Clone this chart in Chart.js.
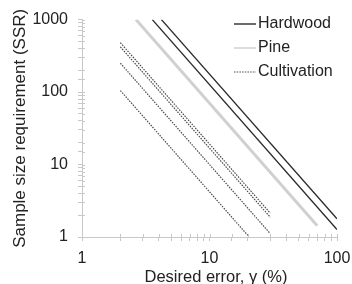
<!DOCTYPE html>
<html>
<head>
<meta charset="utf-8">
<script src="https://cdn.jsdelivr.net/npm/chart.js@4/dist/chart.umd.min.js"></script>
<style>
  html, body { margin: 0; padding: 0; background: #fff; overflow: hidden; }
  #wrap { width: 352px; height: 284px; }
</style>
</head>
<body>
<div id="wrap"><canvas id="ssrChart"></canvas></div>
<script>
// groups shown in the legend
var groupNames = ['Hardwood', 'Pine', 'Cultivation'];

// each line: [desired error %, SSR] at its two ends
var hardwood1 = [[3.56, 1000], [100, 1.27]];
var hardwood2 = [[4.2, 1000], [100, 1.78]];
var pine = [[2.65, 1000], [70, 1.43]];
var cultivation1 = [[2, 480], [30, 2.13]];
var cultivation2 = [[2, 420], [30, 1.87]];
var cultivation3 = [[2, 250], [30, 1.11]];
var cultivation4 = [[2, 105], [20, 1.05]];

var xTickLabels = [1, 10, 100];
var yTickLabels = [1, 10, 100, 1000];
var xTitle = 'Desired error, γ (%)';
var yTitle = 'Sample size requirement (SSR)';

var styles = {
    Hardwood: { borderColor: '#2a2a2a', borderWidth: 1.4, borderDash: [] },
    Pine: { borderColor: '#d0d0d0', borderWidth: 3, borderDash: [] },
    Cultivation: { borderColor: '#4a4a4a', borderWidth: 1.2, borderDash: [1.5, 1.2] }
};

function toPoints(arr) {
    return arr.map(function (p) { return { x: p[0], y: p[1] }; });
}

function makeSet(group, arr) {
    var s = styles[group];
    return {
        label: group,
        data: toPoints(arr),
        borderColor: s.borderColor,
        borderWidth: s.borderWidth,
        borderDash: s.borderDash,
        pointRadius: 0,
        fill: false,
        tension: 0
    };
}

var datasets = [
    makeSet('Hardwood', hardwood1),
    makeSet('Hardwood', hardwood2),
    makeSet('Pine', pine),
    makeSet('Cultivation', cultivation1),
    makeSet('Cultivation', cultivation2),
    makeSet('Cultivation', cultivation3),
    makeSet('Cultivation', cultivation4)
];

var FONT = 'Liberation Sans, Arial, Helvetica, sans-serif';
var AXIS_COLOR = '#c8c8c8';

// legend drawn inside the plot, top right, plus the x title (sits a bit right of centre)
var extrasPlugin = {
    id: 'extras',
    afterDraw: function (chart) {
        var ctx = chart.ctx;
        ctx.save();
        ctx.font = '16px ' + FONT;
        ctx.textBaseline = 'middle';
        ctx.fillStyle = '#222';
        groupNames.forEach(function (name, i) {
            var s = styles[name];
            var y = 24 + i * 24;
            ctx.beginPath();
            ctx.strokeStyle = s.borderColor;
            ctx.lineWidth = name === 'Pine' ? 1.5 : s.borderWidth;
            ctx.setLineDash(s.borderDash);
            ctx.moveTo(234, y);
            ctx.lineTo(256, y);
            ctx.stroke();
            ctx.setLineDash([]);
            ctx.fillText(name, 258, y);
        });
        ctx.font = '16.5px ' + FONT;
        ctx.textAlign = 'center';
        ctx.textBaseline = 'alphabetic';
        ctx.fillText(xTitle, 216, 282);

        // small tick marks poking into the plot area
        var xs = chart.scales.x, ys = chart.scales.y;
        ctx.strokeStyle = AXIS_COLOR;
        ctx.lineWidth = 1;
        ctx.beginPath();
        xs.ticks.forEach(function (t) {
            var px = Math.round(xs.getPixelForValue(t.value)) + 0.5;
            ctx.moveTo(px, ys.bottom);
            ctx.lineTo(px, ys.bottom - 3);
        });
        ys.ticks.forEach(function (t) {
            var py = Math.round(ys.getPixelForValue(t.value)) + 0.5;
            ctx.moveTo(xs.left, py);
            ctx.lineTo(xs.left + 3, py);
        });
        ctx.stroke();
        ctx.restore();
    }
};

var ctx = document.getElementById('ssrChart').getContext('2d');
var ssrChart = new Chart(ctx, {
    type: 'line',
    data: { datasets: datasets },
    plugins: [extrasPlugin],
    options: {
        responsive: true,
        maintainAspectRatio: false,
        animation: false,
        layout: { padding: { top: 17, right: 0, bottom: 0, left: 0 } },
        plugins: {
            legend: { display: false },
            tooltip: { enabled: false }
        },
        scales: {
            x: {
                type: 'logarithmic',
                min: 1,
                max: 100,
                afterFit: function (scale) {
                    scale.height = 47;
                    scale.paddingLeft = 0;
                    scale.paddingRight = 15;
                },
                border: { color: AXIS_COLOR, width: 1 },
                grid: { drawOnChartArea: false, drawTicks: true, tickLength: 4, color: AXIS_COLOR },
                ticks: {
                    autoSkip: false,
                    maxRotation: 0,
                    padding: 8,
                    color: '#222',
                    font: { family: FONT, size: 16 },
                    callback: function (v) { return xTickLabels.indexOf(v) >= 0 ? String(v) : ''; }
                },
                title: { display: false }
            },
            y: {
                type: 'logarithmic',
                min: 1,
                max: 1000,
                afterFit: function (scale) { scale.width = 82; },
                border: { color: AXIS_COLOR, width: 1 },
                grid: { drawOnChartArea: false, drawTicks: true, tickLength: 4, color: AXIS_COLOR },
                ticks: {
                    autoSkip: false,
                    padding: 10,
                    color: '#222',
                    font: { family: FONT, size: 16 },
                    callback: function (v) { return yTickLabels.indexOf(v) >= 0 ? String(v) : ''; }
                },
                title: {
                    display: true,
                    text: yTitle,
                    color: '#222',
                    font: { family: FONT, size: 17 },
                    padding: { top: 10, bottom: 0 }
                }
            }
        }
    }
});
</script>
</body>
</html>
